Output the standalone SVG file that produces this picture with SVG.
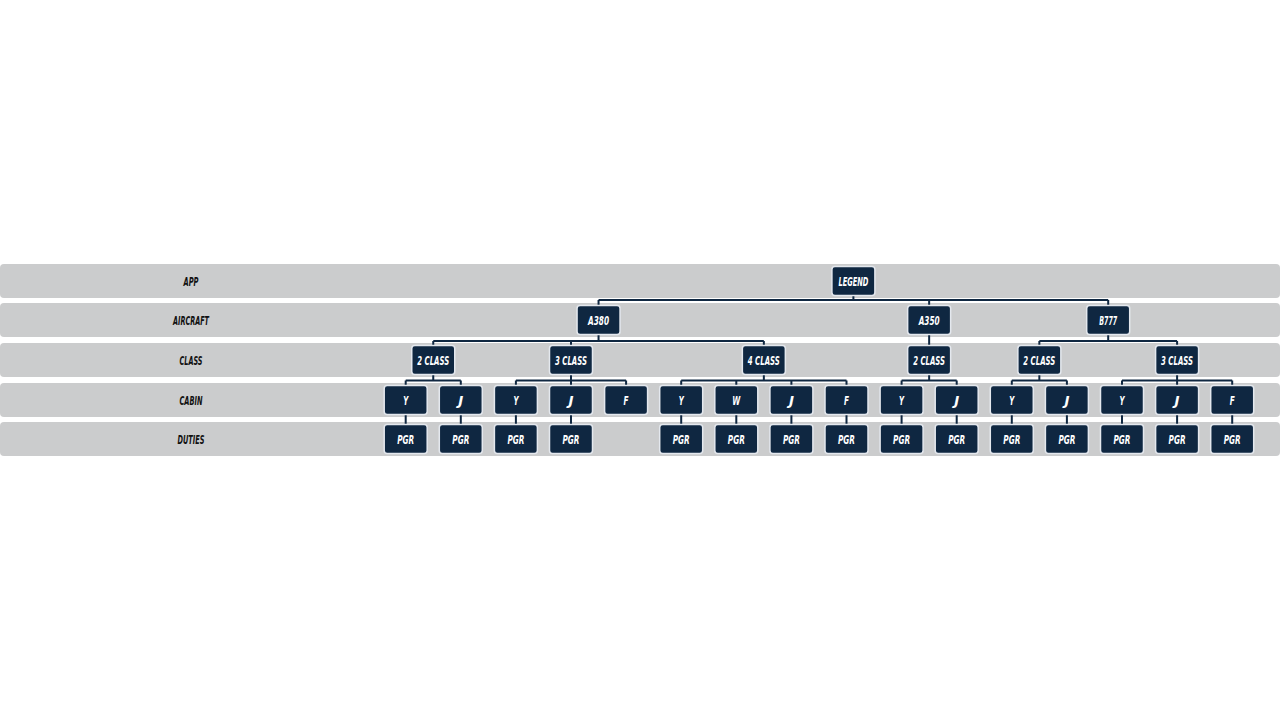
<svg xmlns="http://www.w3.org/2000/svg" width="1280" height="720" viewBox="0 0 1280 720">
<style>
.band{fill:#cbcccd}
.lbl{font-family:"DejaVu Sans",sans-serif;font-weight:bold;font-style:italic;font-stretch:condensed;font-size:13px;fill:#111;text-anchor:middle}
.nd rect{fill:#0f2741;stroke:#e4e8ee;stroke-width:1.5}
.nd text{font-family:"DejaVu Sans",sans-serif;font-weight:bold;font-style:italic;font-stretch:condensed;font-size:13px;fill:#ffffff;text-anchor:middle}
.cn{fill:none;stroke:#0f2741;stroke-width:2}
</style>
<rect width="1280" height="720" fill="#ffffff"/>
<g id="bands">
<rect class="band" x="0" y="264" width="1280" height="34" rx="4"/>
<rect class="band" x="0" y="303" width="1280" height="34" rx="4"/>
<rect class="band" x="0" y="343" width="1280" height="34" rx="4"/>
<rect class="band" x="0" y="383" width="1280" height="34" rx="4"/>
<rect class="band" x="0" y="422" width="1280" height="34" rx="4"/>
<text class="lbl" x="191" y="285.5" textLength="15" lengthAdjust="spacingAndGlyphs">APP</text>
<text class="lbl" x="191" y="324.5" textLength="36" lengthAdjust="spacingAndGlyphs">AIRCRAFT</text>
<text class="lbl" x="191" y="364.5" textLength="23" lengthAdjust="spacingAndGlyphs">CLASS</text>
<text class="lbl" x="191" y="404.5" textLength="23" lengthAdjust="spacingAndGlyphs">CABIN</text>
<text class="lbl" x="191" y="443.5" textLength="27" lengthAdjust="spacingAndGlyphs">DUTIES</text>
</g>
<g id="connectors">
<path class="cn" d="M853.4 295.5V300M598.55 300H1108.2M598.55 300V305.5M929.15 300V305.5M1108.2 300V305.5"/>
<path class="cn" d="M598.55 334.5V341M433.25 341H763.85M433.25 341V345.5M571 341V345.5M763.85 341V345.5"/>
<path class="cn" d="M929.15 334.5V345.5"/>
<path class="cn" d="M1108.2 334.5V341M1039.35 341H1177.1M1039.35 341V345.5M1177.1 341V345.5"/>
<path class="cn" d="M433.25 374.5V380.5M405.7 380.5H460.8M405.7 380.5V385.5M460.8 380.5V385.5"/>
<path class="cn" d="M571 374.5V380.5M515.9 380.5H626.1M515.9 380.5V385.5M571 380.5V385.5M626.1 380.5V385.5"/>
<path class="cn" d="M763.85 374.5V380.5M681.2 380.5H846.5M681.2 380.5V385.5M736.3 380.5V385.5M791.4 380.5V385.5M846.5 380.5V385.5"/>
<path class="cn" d="M929.15 374.5V380.5M901.6 380.5H956.7M901.6 380.5V385.5M956.7 380.5V385.5"/>
<path class="cn" d="M1039.35 374.5V380.5M1011.8 380.5H1066.9M1011.8 380.5V385.5M1066.9 380.5V385.5"/>
<path class="cn" d="M1177.1 374.5V380.5M1122 380.5H1232.2M1122 380.5V385.5M1177.1 380.5V385.5M1232.2 380.5V385.5"/>
<path class="cn" d="M405.7 414.5V424.5M460.8 414.5V424.5M515.9 414.5V424.5M571 414.5V424.5M681.2 414.5V424.5M736.3 414.5V424.5M791.4 414.5V424.5M846.5 414.5V424.5M901.6 414.5V424.5M956.7 414.5V424.5M1011.8 414.5V424.5M1066.9 414.5V424.5M1122 414.5V424.5M1177.1 414.5V424.5M1232.2 414.5V424.5"/>
</g>
<g id="n-legend" class="nd"><rect x="831.9" y="266.5" width="43" height="29" rx="3"/><text x="853.4" y="285.5" textLength="30" lengthAdjust="spacingAndGlyphs">LEGEND</text></g>
<g id="n-a380" class="nd"><rect x="577.05" y="305.5" width="43" height="29" rx="3"/><text x="598.55" y="324.5" textLength="21" lengthAdjust="spacingAndGlyphs">A380</text></g>
<g id="n-a350" class="nd"><rect x="907.65" y="305.5" width="43" height="29" rx="3"/><text x="929.15" y="324.5" textLength="21" lengthAdjust="spacingAndGlyphs">A350</text></g>
<g id="n-b777" class="nd"><rect x="1086.7" y="305.5" width="43" height="29" rx="3"/><text x="1108.2" y="324.5" textLength="18" lengthAdjust="spacingAndGlyphs">B777</text></g>
<g id="n-a380-2c" class="nd"><rect x="411.75" y="345.5" width="43" height="29" rx="3"/><text x="433.25" y="364.5" textLength="32" lengthAdjust="spacingAndGlyphs">2 CLASS</text></g>
<g id="n-a380-3c" class="nd"><rect x="549.5" y="345.5" width="43" height="29" rx="3"/><text x="571" y="364.5" textLength="32" lengthAdjust="spacingAndGlyphs">3 CLASS</text></g>
<g id="n-a380-4c" class="nd"><rect x="742.35" y="345.5" width="43" height="29" rx="3"/><text x="763.85" y="364.5" textLength="32" lengthAdjust="spacingAndGlyphs">4 CLASS</text></g>
<g id="n-a350-2c" class="nd"><rect x="907.65" y="345.5" width="43" height="29" rx="3"/><text x="929.15" y="364.5" textLength="32" lengthAdjust="spacingAndGlyphs">2 CLASS</text></g>
<g id="n-b777-2c" class="nd"><rect x="1017.85" y="345.5" width="43" height="29" rx="3"/><text x="1039.35" y="364.5" textLength="32" lengthAdjust="spacingAndGlyphs">2 CLASS</text></g>
<g id="n-b777-3c" class="nd"><rect x="1155.6" y="345.5" width="43" height="29" rx="3"/><text x="1177.1" y="364.5" textLength="32" lengthAdjust="spacingAndGlyphs">3 CLASS</text></g>
<g id="c0" class="nd"><rect x="384.2" y="385.5" width="43" height="29" rx="3"/><text x="405.7" y="404.5" textLength="5" lengthAdjust="spacingAndGlyphs">Y</text></g>
<g id="c1" class="nd"><rect x="439.3" y="385.5" width="43" height="29" rx="3"/><text x="460.8" y="404.5" textLength="5" lengthAdjust="spacingAndGlyphs">J</text></g>
<g id="c2" class="nd"><rect x="494.4" y="385.5" width="43" height="29" rx="3"/><text x="515.9" y="404.5" textLength="5" lengthAdjust="spacingAndGlyphs">Y</text></g>
<g id="c3" class="nd"><rect x="549.5" y="385.5" width="43" height="29" rx="3"/><text x="571" y="404.5" textLength="5" lengthAdjust="spacingAndGlyphs">J</text></g>
<g id="c4" class="nd"><rect x="604.6" y="385.5" width="43" height="29" rx="3"/><text x="626.1" y="404.5" textLength="5" lengthAdjust="spacingAndGlyphs">F</text></g>
<g id="c5" class="nd"><rect x="659.7" y="385.5" width="43" height="29" rx="3"/><text x="681.2" y="404.5" textLength="5" lengthAdjust="spacingAndGlyphs">Y</text></g>
<g id="c6" class="nd"><rect x="714.8" y="385.5" width="43" height="29" rx="3"/><text x="736.3" y="404.5" textLength="8" lengthAdjust="spacingAndGlyphs">W</text></g>
<g id="c7" class="nd"><rect x="769.9" y="385.5" width="43" height="29" rx="3"/><text x="791.4" y="404.5" textLength="5" lengthAdjust="spacingAndGlyphs">J</text></g>
<g id="c8" class="nd"><rect x="825" y="385.5" width="43" height="29" rx="3"/><text x="846.5" y="404.5" textLength="5" lengthAdjust="spacingAndGlyphs">F</text></g>
<g id="c9" class="nd"><rect x="880.1" y="385.5" width="43" height="29" rx="3"/><text x="901.6" y="404.5" textLength="5" lengthAdjust="spacingAndGlyphs">Y</text></g>
<g id="c10" class="nd"><rect x="935.2" y="385.5" width="43" height="29" rx="3"/><text x="956.7" y="404.5" textLength="5" lengthAdjust="spacingAndGlyphs">J</text></g>
<g id="c11" class="nd"><rect x="990.3" y="385.5" width="43" height="29" rx="3"/><text x="1011.8" y="404.5" textLength="5" lengthAdjust="spacingAndGlyphs">Y</text></g>
<g id="c12" class="nd"><rect x="1045.4" y="385.5" width="43" height="29" rx="3"/><text x="1066.9" y="404.5" textLength="5" lengthAdjust="spacingAndGlyphs">J</text></g>
<g id="c13" class="nd"><rect x="1100.5" y="385.5" width="43" height="29" rx="3"/><text x="1122" y="404.5" textLength="5" lengthAdjust="spacingAndGlyphs">Y</text></g>
<g id="c14" class="nd"><rect x="1155.6" y="385.5" width="43" height="29" rx="3"/><text x="1177.1" y="404.5" textLength="5" lengthAdjust="spacingAndGlyphs">J</text></g>
<g id="c15" class="nd"><rect x="1210.7" y="385.5" width="43" height="29" rx="3"/><text x="1232.2" y="404.5" textLength="5" lengthAdjust="spacingAndGlyphs">F</text></g>
<g id="d0" class="nd"><rect x="384.2" y="424.5" width="43" height="29" rx="3"/><text x="405.7" y="443.5" textLength="17" lengthAdjust="spacingAndGlyphs">PGR</text></g>
<g id="d1" class="nd"><rect x="439.3" y="424.5" width="43" height="29" rx="3"/><text x="460.8" y="443.5" textLength="17" lengthAdjust="spacingAndGlyphs">PGR</text></g>
<g id="d2" class="nd"><rect x="494.4" y="424.5" width="43" height="29" rx="3"/><text x="515.9" y="443.5" textLength="17" lengthAdjust="spacingAndGlyphs">PGR</text></g>
<g id="d3" class="nd"><rect x="549.5" y="424.5" width="43" height="29" rx="3"/><text x="571" y="443.5" textLength="17" lengthAdjust="spacingAndGlyphs">PGR</text></g>
<g id="d5" class="nd"><rect x="659.7" y="424.5" width="43" height="29" rx="3"/><text x="681.2" y="443.5" textLength="17" lengthAdjust="spacingAndGlyphs">PGR</text></g>
<g id="d6" class="nd"><rect x="714.8" y="424.5" width="43" height="29" rx="3"/><text x="736.3" y="443.5" textLength="17" lengthAdjust="spacingAndGlyphs">PGR</text></g>
<g id="d7" class="nd"><rect x="769.9" y="424.5" width="43" height="29" rx="3"/><text x="791.4" y="443.5" textLength="17" lengthAdjust="spacingAndGlyphs">PGR</text></g>
<g id="d8" class="nd"><rect x="825" y="424.5" width="43" height="29" rx="3"/><text x="846.5" y="443.5" textLength="17" lengthAdjust="spacingAndGlyphs">PGR</text></g>
<g id="d9" class="nd"><rect x="880.1" y="424.5" width="43" height="29" rx="3"/><text x="901.6" y="443.5" textLength="17" lengthAdjust="spacingAndGlyphs">PGR</text></g>
<g id="d10" class="nd"><rect x="935.2" y="424.5" width="43" height="29" rx="3"/><text x="956.7" y="443.5" textLength="17" lengthAdjust="spacingAndGlyphs">PGR</text></g>
<g id="d11" class="nd"><rect x="990.3" y="424.5" width="43" height="29" rx="3"/><text x="1011.8" y="443.5" textLength="17" lengthAdjust="spacingAndGlyphs">PGR</text></g>
<g id="d12" class="nd"><rect x="1045.4" y="424.5" width="43" height="29" rx="3"/><text x="1066.9" y="443.5" textLength="17" lengthAdjust="spacingAndGlyphs">PGR</text></g>
<g id="d13" class="nd"><rect x="1100.5" y="424.5" width="43" height="29" rx="3"/><text x="1122" y="443.5" textLength="17" lengthAdjust="spacingAndGlyphs">PGR</text></g>
<g id="d14" class="nd"><rect x="1155.6" y="424.5" width="43" height="29" rx="3"/><text x="1177.1" y="443.5" textLength="17" lengthAdjust="spacingAndGlyphs">PGR</text></g>
<g id="d15" class="nd"><rect x="1210.7" y="424.5" width="43" height="29" rx="3"/><text x="1232.2" y="443.5" textLength="17" lengthAdjust="spacingAndGlyphs">PGR</text></g>
</svg>
